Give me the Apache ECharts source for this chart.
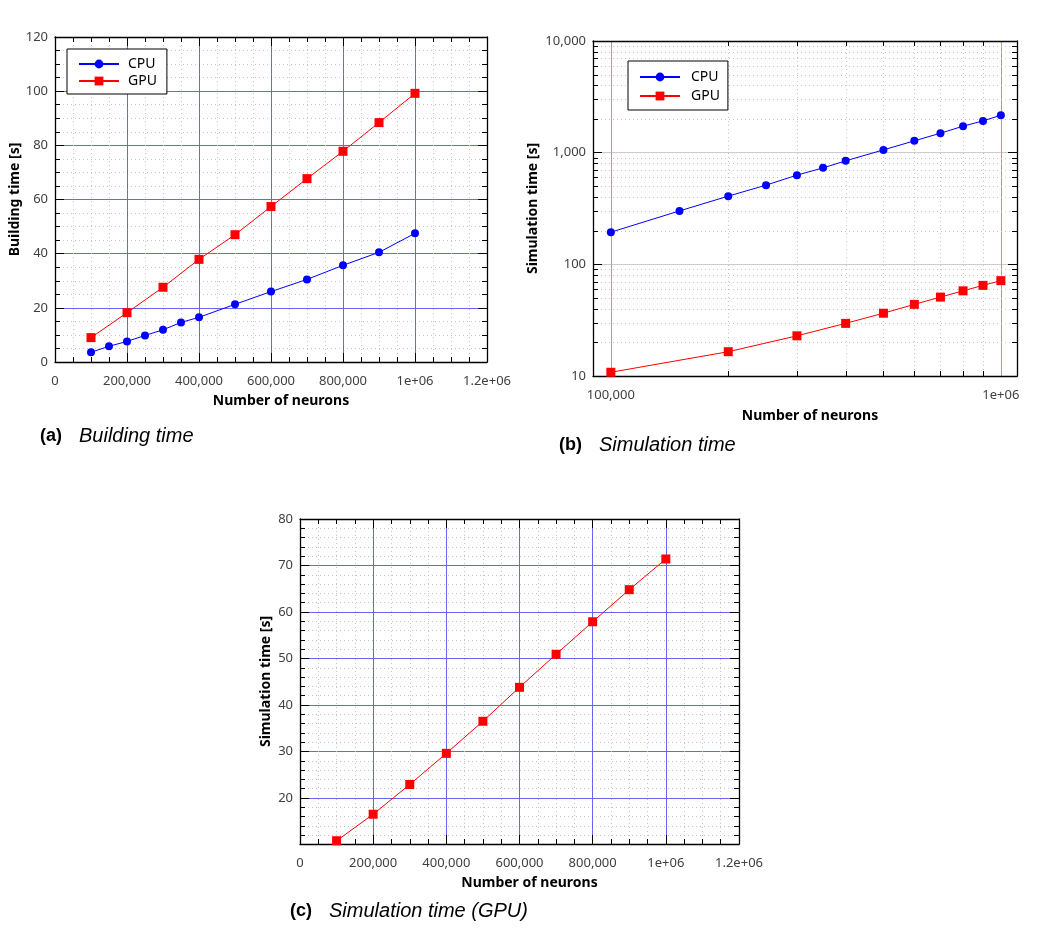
<!DOCTYPE html>
<html>
<head>
<meta charset="utf-8">
<script src="https://cdn.jsdelivr.net/npm/echarts@6/dist/echarts.min.js"></script>
<style>
  html, body { margin: 0; padding: 0; background: #fff; }
  #main { width: 1043px; height: 942px; }
</style>
</head>
<body>
<div id="main"></div>
<script>
// neurons counts
var cpuNeurons = [100000, 150000, 200000, 250000, 300000, 350000, 400000, 500000, 600000, 700000, 800000, 900000, 1000000];
var gpuNeurons = [100000, 200000, 300000, 400000, 500000, 600000, 700000, 800000, 900000, 1000000];

// (a) building time [s]
var buildCpu = [3.6, 5.8, 7.6, 9.8, 11.9, 14.6, 16.5, 21.3, 26.0, 30.5, 35.7, 40.5, 47.5];
var buildGpu = [9.0, 18.2, 27.6, 37.9, 47.0, 57.4, 67.7, 77.8, 88.4, 99.2];

// (b)/(c) simulation time [s]
var simCpu = [194, 301, 408, 512, 629, 731, 845, 1059, 1276, 1494, 1726, 1926, 2163];
var simGpu = [10.8, 16.5, 22.9, 29.6, 36.5, 43.8, 50.9, 57.9, 64.8, 71.4];

// minor ticks of the log panel
var logMinorX = [200000, 300000, 400000, 500000, 600000, 700000, 800000, 900000];
var logMinorY = [20, 30, 40, 50, 60, 70, 80, 90, 200, 300, 400, 500, 600, 700, 800, 900,
                 2000, 3000, 4000, 5000, 6000, 7000, 8000, 9000];

var legendNames = ['CPU', 'GPU'];

function zip(xs, ys) {
    var out = [];
    for (var i = 0; i < xs.length; i++) out.push([xs[i], ys[i]]);
    return out;
}

function fmtNum(v) {
    var r = Math.round(v);
    if (r >= 1000000) return (r / 1000000) + 'e+06';
    return r.toLocaleString('en-US');
}

var FONT = 'Noto Sans';
var labelStyle = { color: '#404040', fontSize: 13, fontFamily: FONT };
var nameStyle = { color: '#000', fontSize: 14, fontWeight: 'bold', fontFamily: FONT };
var blackLine = { show: true, onZero: false, lineStyle: { color: '#000', width: 1.3 } };
var dotted = { show: true, lineStyle: { color: '#c4c4c4', width: 1, type: [1, 3] } };
var blueGrid = { show: true, lineStyle: { color: '#6666f6', width: 1 } };

var captionRich = {
    b: { fontFamily: 'Liberation Sans', fontWeight: 'bold', fontSize: 18, color: '#000' },
    i: { fontFamily: 'Liberation Sans', fontStyle: 'italic', fontWeight: 'normal', fontSize: 20, color: '#000', padding: [0, 0, 0, 17] }
};

// a linear axis; the mirror copy on top/right has no labels or grid
function linAxis(pos, gridIndex, min, max, interval, minorSplit, extra) {
    var main = pos === 'bottom' || pos === 'left';
    var ax = {
        type: 'value', gridIndex: gridIndex, position: pos,
        min: min, max: max,
        axisLine: blackLine,
        axisTick: { show: true, inside: true, length: 9, lineStyle: { color: '#000' } },
        minorTick: { show: true, splitNumber: minorSplit, length: 5, lineStyle: { color: '#000' } },
        axisLabel: Object.assign({ show: main, margin: pos === 'bottom' ? 13 : 7, formatter: fmtNum }, labelStyle),
        splitLine: main ? blueGrid : { show: false },
        minorSplitLine: main ? dotted : { show: false }
    };
    if (interval) ax.interval = interval;
    return Object.assign(ax, extra || {});
}

var xName = Object.assign({ padding: [0, 0, 0, 20] }, nameStyle);

var option = {
    animation: false,
    backgroundColor: '#fff',
    title: [
        { left: 40, top: 426, padding: 0, text: '{b|(a)}{i|Building time}', textStyle: { fontWeight: 'normal', rich: captionRich } },
        { left: 559, top: 435, padding: 0, text: '{b|(b)}{i|Simulation time}', textStyle: { fontWeight: 'normal', rich: captionRich } },
        { left: 290, top: 901, padding: 0, text: '{b|(c)}{i|Simulation time (GPU)}', textStyle: { fontWeight: 'normal', rich: captionRich } }
    ],
    legend: [
        {
            data: legendNames, orient: 'vertical', left: 67, top: 49,
            padding: [8, 10, 6, 11], itemWidth: 40, itemHeight: 11, itemGap: 3,
            backgroundColor: '#fff', borderColor: '#000', borderWidth: 1, borderRadius: 0,
            textStyle: { color: '#000', fontSize: 14, fontFamily: FONT, lineHeight: 14, padding: [0, 0, 0, 4] },
            selectedMode: false
        },
        {
            data: legendNames, orient: 'vertical', left: 628, top: 61,
            padding: [9, 8, 7, 11], itemWidth: 40, itemHeight: 11, itemGap: 5,
            backgroundColor: '#fff', borderColor: '#000', borderWidth: 1, borderRadius: 0,
            textStyle: { color: '#000', fontSize: 14, fontFamily: FONT, lineHeight: 14, padding: [0, 0, 0, 6] },
            selectedMode: false
        }
    ],
    grid: [
        { left: 55, top: 37, width: 432, height: 325, outerBoundsMode: 'none' },
        { left: 593, top: 41, width: 424, height: 335, outerBoundsMode: 'none' },
        { left: 300, top: 519, width: 439, height: 325, outerBoundsMode: 'none' }
    ],
    xAxis: [
        linAxis('bottom', 0, 0, 1200000, 200000, 4, {
            name: 'Number of neurons', nameLocation: 'middle', nameGap: 32, nameTextStyle: xName
        }),
        linAxis('top', 0, 0, 1200000, 200000, 4),
        {
            type: 'log', logBase: 10, gridIndex: 1, position: 'bottom',
            min: 90000, max: 1100000,
            name: 'Number of neurons', nameLocation: 'middle', nameGap: 33,
            nameTextStyle: Object.assign({ padding: [0, 0, 0, 10] }, nameStyle),
            axisLine: blackLine,
            axisTick: { show: false },
            axisLabel: Object.assign({ margin: 13, formatter: fmtNum, showMinLabel: false, showMaxLabel: false }, labelStyle),
            splitLine: { show: true, lineStyle: { color: '#b48ee6', width: 1 } }
        },
        {
            type: 'log', logBase: 10, gridIndex: 1, position: 'top',
            min: 90000, max: 1100000,
            axisLine: blackLine, axisTick: { show: false }, axisLabel: { show: false }, splitLine: { show: false }
        },
        linAxis('bottom', 2, 0, 1200000, 200000, 4, {
            name: 'Number of neurons', nameLocation: 'middle', nameGap: 32, nameTextStyle: xName
        }),
        linAxis('top', 2, 0, 1200000, 200000, 4)
    ],
    yAxis: [
        linAxis('left', 0, 0, 120, 20, 4, {
            name: 'Building time [s]', nameLocation: 'middle', nameGap: 33, nameTextStyle: nameStyle
        }),
        linAxis('right', 0, 0, 120, 20, 4),
        {
            type: 'log', logBase: 10, gridIndex: 1, position: 'left',
            min: 10, max: 10000,
            name: 'Simulation time [s]', nameLocation: 'middle', nameGap: 53, nameTextStyle: nameStyle,
            axisLine: blackLine,
            axisTick: { show: true, inside: true, length: 9, lineStyle: { color: '#000' } },
            axisLabel: Object.assign({ margin: 7, formatter: fmtNum }, labelStyle),
            splitLine: { show: true, lineStyle: { color: '#cccccc', width: 1 } }
        },
        {
            type: 'log', logBase: 10, gridIndex: 1, position: 'right',
            min: 10, max: 10000,
            axisLine: blackLine,
            axisTick: { show: true, inside: true, length: 9, lineStyle: { color: '#000' } },
            axisLabel: { show: false }, splitLine: { show: false }
        },
        linAxis('left', 2, 10.1, 80, null, 5, {
            name: 'Simulation time [s]', nameLocation: 'middle', nameGap: 27, nameTextStyle: nameStyle,
            axisLabel: Object.assign({ margin: 7, formatter: fmtNum, showMinLabel: false }, labelStyle)
        }),
        linAxis('right', 2, 10.1, 80, null, 5)
    ],
    series: [
        {
            // dotted minor grid + minor ticks of the log panel
            type: 'custom', xAxisIndex: 2, yAxisIndex: 2, silent: true, z: 1,
            data: [[100000, 100]],
            renderItem: function (params, api) {
                var cs = params.coordSys;
                var kids = [];
                var dot = { stroke: '#c4c4c4', lineWidth: 1, lineDash: [1, 3] };
                var tick = { stroke: '#000', lineWidth: 1 };
                logMinorY.forEach(function (v) {
                    var y = Math.round(api.coord([100000, v])[1]) + 0.5;
                    kids.push({ type: 'line', shape: { x1: cs.x, y1: y, x2: cs.x + cs.width, y2: y }, style: dot });
                    kids.push({ type: 'line', shape: { x1: cs.x, y1: y, x2: cs.x + 5, y2: y }, style: tick });
                    kids.push({ type: 'line', shape: { x1: cs.x + cs.width - 5, y1: y, x2: cs.x + cs.width, y2: y }, style: tick });
                });
                logMinorX.forEach(function (v) {
                    var x = Math.round(api.coord([v, 100])[0]) + 0.5;
                    kids.push({ type: 'line', shape: { x1: x, y1: cs.y, x2: x, y2: cs.y + cs.height }, style: dot });
                    kids.push({ type: 'line', shape: { x1: x, y1: cs.y, x2: x, y2: cs.y + 5 }, style: tick });
                    kids.push({ type: 'line', shape: { x1: x, y1: cs.y + cs.height - 5, x2: x, y2: cs.y + cs.height }, style: tick });
                });
                return { type: 'group', children: kids };
            }
        },
        {
            name: 'CPU', type: 'line', xAxisIndex: 0, yAxisIndex: 0,
            data: zip(cpuNeurons, buildCpu),
            symbol: 'circle', symbolSize: 8, showAllSymbol: true,
            lineStyle: { color: '#0000ff', width: 1 }, itemStyle: { color: '#0000ff' },
            emphasis: { disabled: true }
        },
        {
            name: 'GPU', type: 'line', xAxisIndex: 0, yAxisIndex: 0,
            data: zip(gpuNeurons, buildGpu),
            symbol: 'rect', symbolSize: 9, showAllSymbol: true,
            lineStyle: { color: '#ff0000', width: 1 }, itemStyle: { color: '#ff0000' },
            emphasis: { disabled: true }
        },
        {
            name: 'CPU', type: 'line', xAxisIndex: 2, yAxisIndex: 2,
            data: zip(cpuNeurons, simCpu),
            symbol: 'circle', symbolSize: 8, showAllSymbol: true,
            lineStyle: { color: '#0000ff', width: 1 }, itemStyle: { color: '#0000ff' },
            emphasis: { disabled: true }
        },
        {
            name: 'GPU', type: 'line', xAxisIndex: 2, yAxisIndex: 2,
            data: zip(gpuNeurons, simGpu),
            symbol: 'rect', symbolSize: 9, showAllSymbol: true,
            lineStyle: { color: '#ff0000', width: 1 }, itemStyle: { color: '#ff0000' },
            emphasis: { disabled: true }
        },
        {
            name: 'GPU only', type: 'line', xAxisIndex: 4, yAxisIndex: 4,
            data: zip(gpuNeurons, simGpu),
            symbol: 'rect', symbolSize: 9, showAllSymbol: true, clip: false,
            lineStyle: { color: '#ff0000', width: 1 }, itemStyle: { color: '#ff0000' },
            emphasis: { disabled: true }
        }
    ]
};

var myChart = echarts.init(document.getElementById('main'));
myChart.setOption(option);
</script>
</body>
</html>
